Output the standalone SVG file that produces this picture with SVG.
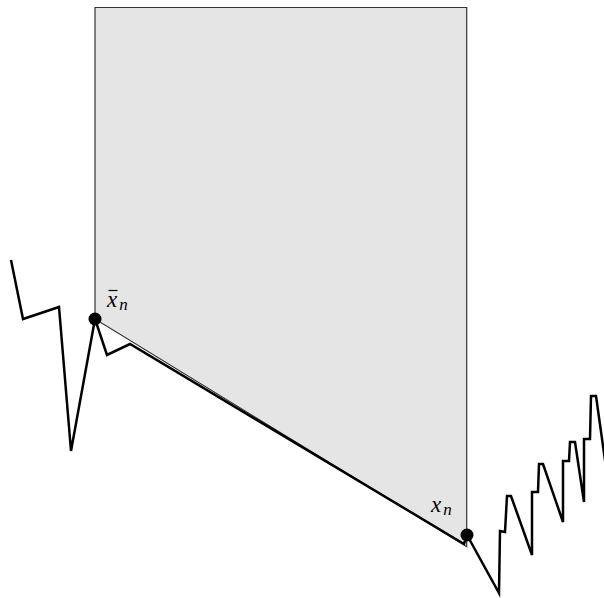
<svg xmlns="http://www.w3.org/2000/svg" width="604" height="598" viewBox="0 0 604 598">
<style>
.region{fill:#e5e5e5;stroke:#333;stroke-width:1.2}
.path{fill:none;stroke:#000;stroke-width:2.5;stroke-linejoin:miter}
.dot{fill:#000}
.lbl{font-family:"Liberation Serif","DejaVu Serif",serif;font-style:italic;font-size:23px;fill:#000}
.sub{font-size:17px}
</style>
<g id="region">
<polygon class="region" points="95,7.5 466.7,7.5 466.7,546.7 95,319"/>
</g>
<g id="connectors">
<polyline class="path" points="11,260 23,319 59,307 71,451 95,319 107,355 130,344 464,544 467,535 499,593 500,531 505,532 507,496 511,496 532,555 532,492 538,492 539,464 543,464 563,522 563,461 569,461 570,442 575,442 584,502 584,439 590,439 591,396 596,396 612,510"/>
</g>
<g id="node-xbar">
<circle class="dot" cx="95" cy="319" r="6.5"/>
<text class="lbl" x="107" y="307">x<tspan class="sub" dx="2" dy="3">n</tspan></text>
<line x1="108.5" y1="290.5" x2="117.5" y2="290.5" stroke="#000" stroke-width="1.2"/>
</g>
<g id="node-x">
<circle class="dot" cx="467" cy="535" r="6.5"/>
<text class="lbl" x="431" y="512">x<tspan class="sub" dx="2" dy="3">n</tspan></text>
</g>
</svg>
